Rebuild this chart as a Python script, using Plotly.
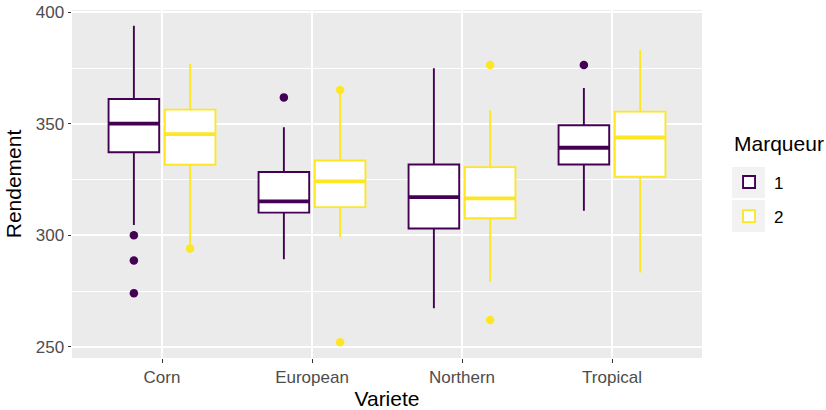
import plotly.graph_objects as go

# Yield (Rendement) by variety (Variete) and marker (Marqueur)
varietes = ["Corn", "European", "Northern", "Tropical"]
marqueurs = ["1", "2"]

q1_m1 = [337.3, 310.2, 303.1, 331.8]
median_m1 = [350.1, 315.3, 317.2, 339.3]
q3_m1 = [361.2, 328.4, 331.8, 349.4]
low_m1 = [304.7, 289.3, 267.3, 311.0]
high_m1 = [394.0, 348.5, 375.0, 366.1]
out_var_m1 = ["Corn", "Corn", "Corn", "European", "Tropical"]
out_val_m1 = [300.1, 288.7, 274.1, 361.9, 376.4]

q1_m2 = [331.7, 312.7, 307.7, 326.3]
median_m2 = [345.4, 324.2, 316.6, 343.9]
q3_m2 = [356.4, 333.6, 330.6, 355.5]
low_m2 = [295.8, 299.3, 279.2, 283.4]
high_m2 = [377.0, 363.6, 356.1, 383.2]
out_var_m2 = ["Corn", "European", "European", "Northern", "Northern"]
out_val_m2 = [294.1, 365.2, 252.1, 376.4, 262.1]

colors = ["#440154", "#FDE725"]

stats = [
    (q1_m1, median_m1, q3_m1, low_m1, high_m1, out_var_m1, out_val_m1),
    (q1_m2, median_m2, q3_m2, low_m2, high_m2, out_var_m2, out_val_m2),
]

# dodge layout: total width 0.75 split between markers, 10% padding per box
group_w = 0.75
n = len(marqueurs)
slot = group_w / n
box_w = slot * 0.9
base = {v: i + 1 for i, v in enumerate(varietes)}

fig = go.Figure()
for k, (q1, med, q3, lo, hi, ov, oval) in enumerate(stats):
    off = -group_w / 2 + slot * (k + 0.5)
    xs = [base[v] + off for v in varietes]
    fig.add_trace(go.Box(
        x=xs, q1=q1, median=med, q3=q3, lowerfence=lo, upperfence=hi,
        width=box_w, name=marqueurs[k], boxpoints=False,
        fillcolor="white", line=dict(color=colors[k], width=1.9),
        whiskerwidth=0, legendgroup=marqueurs[k], showlegend=True,
    ))
    # thicker median bars
    mx, my = [], []
    for x, m in zip(xs, med):
        mx += [x - box_w / 2, x + box_w / 2, None]
        my += [m, m, None]
    fig.add_trace(go.Scatter(
        x=mx, y=my, mode="lines", line=dict(color=colors[k], width=3.8),
        showlegend=False, hoverinfo="skip", legendgroup=marqueurs[k],
    ))
    # outliers
    fig.add_trace(go.Scatter(
        x=[base[v] + off for v in ov], y=oval, mode="markers",
        marker=dict(color=colors[k], size=8.5, line=dict(width=0)),
        showlegend=False, legendgroup=marqueurs[k],
    ))

all_vals = low_m1 + low_m2 + high_m1 + high_m2 + out_val_m1 + out_val_m2
lo_v, hi_v = min(all_vals), max(all_vals)
pad = (hi_v - lo_v) * 0.05

# grey key backgrounds behind the legend glyphs
for y_top, y_bot in [(0.549, 0.460), (0.454, 0.362)]:
    fig.add_shape(type="rect", xref="paper", yref="paper",
                  x0=1.0476, x1=1.1, y0=y_bot, y1=y_top,
                  fillcolor="#F2F2F2", line=dict(width=0), layer="below")

fig.add_annotation(text="Marqueur", xref="paper", yref="paper",
                   x=1.047, y=0.615, xanchor="left", yanchor="middle",
                   showarrow=False, font=dict(size=21, color="#000000"))

font = "Liberation Sans, Arial, sans-serif"
fig.update_layout(
    width=826, height=410,
    margin=dict(l=72, r=124, t=10, b=52, autoexpand=False),
    paper_bgcolor="white", plot_bgcolor="#EBEBEB",
    font=dict(family=font, color="#000000"),
    xaxis=dict(
        range=[0.4, len(varietes) + 0.6],
        tickvals=[base[v] for v in varietes], ticktext=varietes,
        ticks="outside", ticklen=3.5, tickwidth=1, tickcolor="#333333",
        tickfont=dict(size=17, color="#4D4D4D"),
        showgrid=True, gridcolor="white", gridwidth=1.6,
        zeroline=False, showline=False, automargin=False,
        title=dict(text="Variete", font=dict(size=21), standoff=5),
    ),
    yaxis=dict(
        range=[lo_v - pad, hi_v + pad],
        tickvals=[250, 300, 350, 400],
        ticks="outside", ticklen=3.5, tickwidth=1, tickcolor="#333333",
        tickfont=dict(size=17, color="#4D4D4D"),
        showgrid=True, gridcolor="white", gridwidth=1.6,
        minor=dict(tickvals=[275, 325, 375], showgrid=True,
                   gridcolor="white", gridwidth=0.8, ticks=""),
        zeroline=False, showline=False, automargin=False,
        title=dict(text="Rendement", font=dict(size=21), standoff=8),
    ),
    legend=dict(
        font=dict(size=17), x=1.035, xanchor="left",
        y=0.4555, yanchor="middle", itemwidth=40,
        bgcolor="rgba(0,0,0,0)", tracegroupgap=9,
    ),
)

fig.write_html("out.html")
